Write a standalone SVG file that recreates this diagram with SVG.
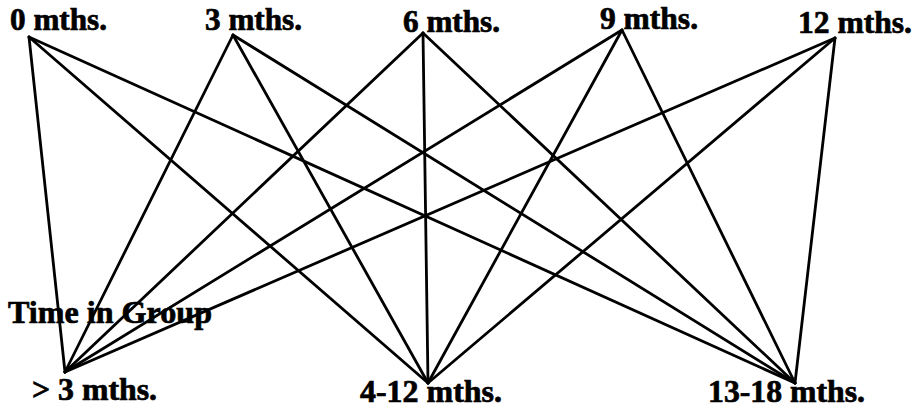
<svg xmlns="http://www.w3.org/2000/svg" width="916" height="408" viewBox="0 0 916 408">
<style>
text{font-family:"Liberation Serif","Times New Roman",serif;font-weight:bold;font-size:32px;fill:#000;stroke:#000;stroke-width:0.7}
.c line{stroke:#000;stroke-width:2.8;stroke-linecap:round}
</style>
<rect width="916" height="408" fill="#fff"/>
<g class="c" id="connectors">
<line x1="29" y1="37" x2="65" y2="372"/>
<line x1="29" y1="37" x2="428" y2="383"/>
<line x1="29" y1="37" x2="795" y2="383"/>
<line x1="233" y1="35" x2="65" y2="372"/>
<line x1="233" y1="35" x2="428" y2="383"/>
<line x1="233" y1="35" x2="795" y2="383"/>
<line x1="423" y1="33" x2="65" y2="372"/>
<line x1="423" y1="33" x2="428" y2="383"/>
<line x1="423" y1="33" x2="795" y2="383"/>
<line x1="622" y1="30" x2="65" y2="372"/>
<line x1="622" y1="30" x2="428" y2="383"/>
<line x1="622" y1="30" x2="795" y2="383"/>
<line x1="835" y1="38" x2="65" y2="372"/>
<line x1="835" y1="38" x2="428" y2="383"/>
<line x1="835" y1="38" x2="795" y2="383"/>
</g>
<g id="n0"><text x="10" y="30" textLength="97" lengthAdjust="spacingAndGlyphs">0 mths.</text></g>
<g id="n3"><text x="205" y="30" textLength="97" lengthAdjust="spacingAndGlyphs">3 mths.</text></g>
<g id="n6"><text x="403" y="32" textLength="97" lengthAdjust="spacingAndGlyphs">6 mths.</text></g>
<g id="n9"><text x="600" y="29" textLength="98" lengthAdjust="spacingAndGlyphs">9 mths.</text></g>
<g id="n12"><text x="798" y="33" textLength="114" lengthAdjust="spacingAndGlyphs">12 mths.</text></g>
<g id="title"><text x="8" y="323" textLength="204" lengthAdjust="spacingAndGlyphs">Time in Group</text></g>
<g id="b1"><text x="32" y="400" textLength="125" lengthAdjust="spacingAndGlyphs">&gt; 3 mths.</text></g>
<g id="b2"><text x="360" y="402" textLength="142" lengthAdjust="spacingAndGlyphs">4-12 mths.</text></g>
<g id="b3"><text x="708" y="402" textLength="157" lengthAdjust="spacingAndGlyphs">13-18 mths.</text></g>
</svg>
